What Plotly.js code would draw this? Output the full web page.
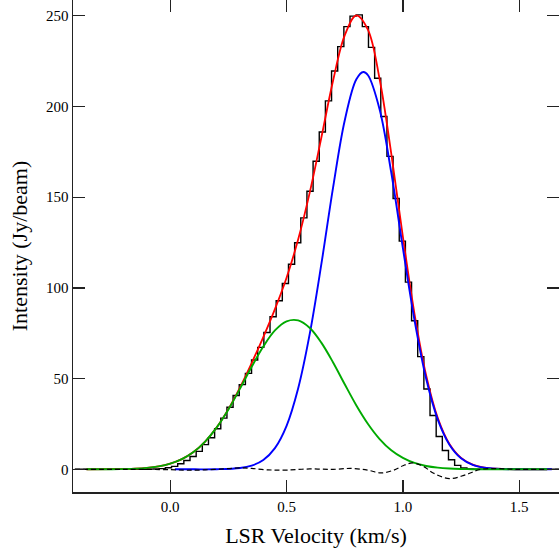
<!DOCTYPE html>
<html>
<head>
<meta charset="utf-8">
<script src="https://cdn.plot.ly/plotly-3.0.1.min.js"></script>
<style>html,body{margin:0;padding:0;overflow:hidden;background:#fff}</style>
</head>
<body>
<div id="chart" style="width:559px;height:554px"></div>
<script>
// Observed spectrum (histogram of channels): bin centres (km/s) and intensity (Jy/beam)
const channelVelocity = [-0.41, -0.113, -0.0870, -0.0605, -0.0341, -0.0076, 0.0189, 0.0453, 0.0718, 0.0982, 0.1247,
  0.1511, 0.1776, 0.2040, 0.2305, 0.2569, 0.2834, 0.3098, 0.3363, 0.3627, 0.3892, 0.4156, 0.4421, 0.4685,
  0.4950, 0.5214, 0.5479, 0.5743, 0.6008, 0.6272, 0.6537, 0.6801, 0.7066, 0.7330, 0.7595, 0.7859, 0.8124,
  0.8388, 0.8653, 0.8917, 0.9182, 0.9446, 0.9711, 0.9975, 1.0240, 1.0504, 1.0769, 1.1033, 1.1298, 1.1562,
  1.1827, 1.2091, 1.2356, 1.2620, 1.2885, 1.3149, 1.3414, 1.68];
const channelIntensity = [0, 0, 0.1, 0.2, 0.4, 0.9, 1.6, 3.1, 4.9, 7.1, 9.9,
  13.6, 17.4, 22.4, 28.2, 34.2, 40.7, 46.7, 52.9, 60.3, 67.2, 75.4, 84.1, 92.9,
  102.4, 113.0, 124.9, 138.6, 153.3, 169.8, 185.9, 203.1, 219.6, 233.0, 244.0, 249.8, 250.5,
  244.0, 232.6, 215.6, 194.5, 172.5, 149.3, 125.8, 103.2, 81.9, 62.1, 44.3, 29.7, 18.1,
  10.4, 5.3, 2.2, 0.7, 0.2, 0.1, 0, 0];

// Fitted components
const fitVelocity = [-0.36, -0.25, -0.15, -0.10, -0.05, 0.00, 0.05, 0.10, 0.15, 0.20, 0.25, 0.30, 0.35,
  0.40, 0.45, 0.50, 0.55, 0.60, 0.65, 0.70, 0.75, 0.80, 0.85, 0.90, 0.95, 1.00, 1.05, 1.10,
  1.15, 1.20, 1.25, 1.30, 1.35, 1.40, 1.50, 1.62];
const totalFit = [0.01, 0.07, 0.37, 0.80, 1.63, 3.11, 5.6, 9.5, 15.3, 23.2, 33.2, 45.2, 58.6,
  72.9, 88.3, 105.6, 126.8, 152.8, 183.2, 214.3, 239.2, 250.2, 242.2, 215.0, 174.0, 128.2, 85.6, 51.8,
  28.3, 14.0, 6.3, 2.56, 0.94, 0.31, 0.02, 0];
const component1 = [0.01, 0.07, 0.37, 0.80, 1.63, 3.11, 5.6, 9.5, 15.3, 23.1, 33.0, 44.5, 56.5,
  67.7, 76.6, 81.6, 82.1, 77.9, 69.7, 58.9, 46.9, 35.2, 25.0, 16.7, 10.5, 6.3, 3.5, 1.86,
  0.93, 0.44, 0.2, 0.08, 0.03, 0.01, 0, 0];
const component2Velocity = [0.02, 0.10, 0.20, 0.30, 0.35, 0.40, 0.45, 0.50, 0.55, 0.60, 0.65, 0.70, 0.75,
  0.80, 0.83, 0.85, 0.90, 0.95, 1.00, 1.05, 1.10, 1.15, 1.20, 1.25, 1.30, 1.35, 1.40, 1.50, 1.64];
const component2 = [0, 0.004, 0.07, 0.73, 2.05, 5.15, 11.7, 24.0, 44.7, 74.9, 113.5, 155.4, 192.3,
  215.0, 219.0, 217.2, 198.3, 163.5, 121.9, 82.1, 49.9, 27.4, 13.6, 6.1, 2.48, 0.91, 0.30, 0.02, 0];

// Residual (dashed)
const residVelocity = [-0.41, -0.20, 0.00, 0.07, 0.15, 0.25, 0.30, 0.35, 0.42, 0.50, 0.60, 0.70, 0.78,
  0.85, 0.905, 0.96, 1.00, 1.042, 1.09, 1.13, 1.20, 1.27, 1.336, 1.50, 1.67];
const residual = [0, 0, -0.2, -0.5, -0.3, 0.4, 0.8, 0.5, -0.3, -0.4, 0.2, 0.0, 0.5,
  -0.5, -2.0, -0.5, 2.0, 3.5, 1.5, -2.0, -5.1, -3.0, 0, 0, 0];

const traces = [
  {x: channelVelocity, y: channelIntensity, type: 'scatter', mode: 'lines', name: 'Data',
   line: {color: '#000000', width: 1.4, shape: 'hvh'}},
  {x: fitVelocity, y: totalFit, type: 'scatter', mode: 'lines', name: 'Total fit',
   line: {color: '#ff0000', width: 1.8, shape: 'spline'}},
  {x: component2Velocity, y: component2, type: 'scatter', mode: 'lines', name: 'Component 2',
   line: {color: '#0000ff', width: 1.9, shape: 'spline'}},
  {x: fitVelocity, y: component1, type: 'scatter', mode: 'lines', name: 'Component 1',
   line: {color: '#00aa00', width: 1.9, shape: 'spline'}},
  {x: residVelocity, y: residual, type: 'scatter', mode: 'lines', name: 'Residual',
   line: {color: '#000000', width: 1.2, dash: '5px,3px', shape: 'spline'}}
];

const axisFont = {family: '"Liberation Serif", "DejaVu Serif", serif', size: 15, color: '#000'};
const titleFont = {family: '"Liberation Serif", "DejaVu Serif", serif', size: 22, color: '#000'};

const layout = {
  width: 559, height: 554,
  margin: {l: 73, r: 0, t: 0, b: 62},
  paper_bgcolor: '#ffffff', plot_bgcolor: '#ffffff',
  showlegend: false,
  xaxis: {
    range: [-0.4179, 1.6709], tick0: 0, dtick: 0.5, tickformat: '.1f',
    ticks: 'inside', ticklen: 12, tickwidth: 1.3, tickcolor: '#222',
    showline: true, linecolor: '#222', linewidth: 1.5, mirror: 'ticks',
    showgrid: false, zeroline: false, tickfont: axisFont,
    title: {text: 'LSR Velocity (km/s)', font: titleFont, standoff: 14}
  },
  yaxis: {
    range: [-12.5, 258.7], tick0: 0, dtick: 50,
    ticks: 'inside', ticklen: 12, tickwidth: 1.3, tickcolor: '#222',
    showline: true, linecolor: '#222', linewidth: 1.5, mirror: 'ticks',
    showgrid: false, zeroline: false, tickfont: axisFont,
    title: {text: 'Intensity (Jy/beam)', font: titleFont, standoff: 12}
  }
};

Plotly.newPlot('chart', traces, layout, {displayModeBar: false, staticPlot: true});
</script>
</body>
</html>
